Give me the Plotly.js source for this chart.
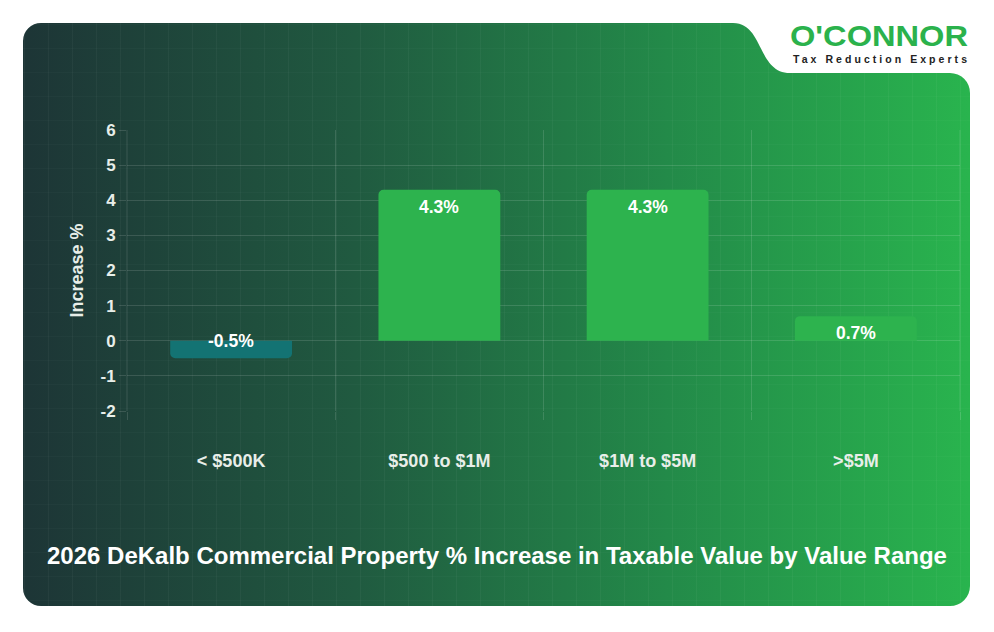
<!DOCTYPE html>
<html>
<head>
<meta charset="utf-8">
<script src="https://cdn.plot.ly/plotly-3.0.1.min.js"></script>
<style>
  html, body { margin: 0; padding: 0; background: #ffffff; }
  #wrap { position: relative; width: 994px; height: 632px; overflow: hidden; }
  #bg { position: absolute; left: 0; top: 0; }
  #chart { position: absolute; left: 0; top: 0; width: 994px; height: 632px; }
</style>
</head>
<body>
<div id="wrap">
  <!-- Card background with the notched top-right corner holding the brand mark -->
  <svg id="bg" width="994" height="632" xmlns="http://www.w3.org/2000/svg">
    <defs>
      <linearGradient id="cardFill" x1="0" y1="0" x2="1" y2="0">
        <stop offset="0" stop-color="#1d3536"/>
        <stop offset="0.35" stop-color="#205a40"/>
        <stop offset="0.68" stop-color="#238a49"/>
        <stop offset="1" stop-color="#29b44e"/>
      </linearGradient>
      <pattern id="tex" width="24" height="24" patternUnits="userSpaceOnUse">
        <rect x="0" y="0" width="1" height="24" fill="rgba(255,255,255,0.035)"/>
        <rect x="0" y="0" width="24" height="1" fill="rgba(255,255,255,0.02)"/>
      </pattern>
    </defs>
    <path id="card" fill="url(#cardFill)" d="
      M 41 23 L 733 23
      C 764 23, 757 73, 790 73
      L 950 73 A 20 20 0 0 1 970 93
      L 970 586 A 20 20 0 0 1 950 606
      L 41 606 A 18 18 0 0 1 23 588
      L 23 41 A 18 18 0 0 1 41 23 Z"/>
    <path id="cardTex" fill="url(#tex)" d="
      M 41 23 L 733 23
      C 764 23, 757 73, 790 73
      L 950 73 A 20 20 0 0 1 970 93
      L 970 586 A 20 20 0 0 1 950 606
      L 41 606 A 18 18 0 0 1 23 588
      L 23 41 A 18 18 0 0 1 41 23 Z"/>
    <text x="790" y="46" textLength="178" lengthAdjust="spacingAndGlyphs"
          font-family="Liberation Sans, Arial, sans-serif" font-weight="bold"
          font-size="30" fill="#2bb24c">O'CONNOR</text>
    <text x="793" y="63" textLength="174" lengthAdjust="spacing"
          font-family="Liberation Sans, Arial, sans-serif" font-weight="bold"
          font-size="10.5" fill="#222222">Tax Reduction Experts</text>
  </svg>
  <div id="chart"></div>
</div>
<script>
// Value ranges and their % change in taxable value
const categories = ['< $500K', '$500 to $1M', '$1M to $5M', '>$5M'];
const increasePct = [-0.5, 4.3, 4.3, 0.7];
const barColors = ['#137373', '#2db34e', '#2db34e', '#2db34e'];
const yTickValues = [-2, -1, 0, 1, 2, 3, 4, 5, 6];

const FONT = 'Liberation Sans, Arial, Helvetica, sans-serif';
const GRID = 'rgba(255,255,255,0.13)';
const TEXT = '#e8eee9';

const bars = {
  type: 'bar',
  x: categories,
  y: increasePct,
  marker: { color: barColors, line: { width: 0 } },
  width: 0.585,
  hoverinfo: 'skip'
};

// Value labels sit just inside the far end of each bar
const labels = categories.map((c, i) => ({
  x: c,
  y: increasePct[i],
  xref: 'x',
  yref: 'y',
  text: increasePct[i].toFixed(1) + '%',
  showarrow: false,
  yanchor: 'middle',
  yshift: increasePct[i] >= 0 ? -17 : 17,
  font: { family: FONT, size: 17.5, weight: 'bold', color: '#ffffff' }
}));

// Grid lines on the left and right edges of the plot area
const edgeLines = [0, 1].map(px => ({
  type: 'line', xref: 'paper', yref: 'paper',
  x0: px, x1: px, y0: 0, y1: 1,
  line: { color: GRID, width: 1 }, layer: 'below'
}));

const layout = {
  width: 994,
  height: 632,
  margin: { l: 127, r: 34, t: 130, b: 221, pad: 0 },
  paper_bgcolor: 'rgba(0,0,0,0)',
  plot_bgcolor: 'rgba(0,0,0,0)',
  font: { family: FONT, color: TEXT },
  showlegend: false,
  barcornerradius: 5,
  title: {
    text: '2026 DeKalb Commercial Property % Increase in Taxable Value by Value Range',
    font: { family: FONT, size: 24, weight: 'bold', color: '#ffffff' },
    x: 0.5, xref: 'container', xanchor: 'center',
    y: 1 - 556 / 632, yref: 'container', yanchor: 'middle'
  },
  xaxis: {
    type: 'category',
    tickson: 'boundaries',
    showgrid: true,
    gridcolor: GRID,
    gridwidth: 1,
    ticks: 'outside',
    ticklen: 8,
    tickcolor: GRID,
    showline: false,
    zeroline: false,
    ticklabelstandoff: 37,
    tickfont: { family: FONT, size: 18, weight: 'bold', color: TEXT },
    fixedrange: true
  },
  yaxis: {
    range: [-2, 6],
    tickmode: 'array',
    tickvals: yTickValues,
    ticktext: yTickValues.map(String),
    showgrid: true,
    gridcolor: GRID,
    zeroline: false,
    showline: false,
    ticks: 'outside',
    ticklen: 7,
    tickcolor: GRID,
    ticklabelstandoff: 0,
    tickfont: { family: FONT, size: 17, weight: 'bold', color: TEXT },
    title: {
      text: 'Increase %',
      standoff: 12,
      font: { family: FONT, size: 18, weight: 'bold', color: TEXT }
    },
    fixedrange: true
  },
  shapes: edgeLines,
  annotations: labels
};

Plotly.newPlot('chart', [bars], layout, { displayModeBar: false, staticPlot: true });
</script>
</body>
</html>
